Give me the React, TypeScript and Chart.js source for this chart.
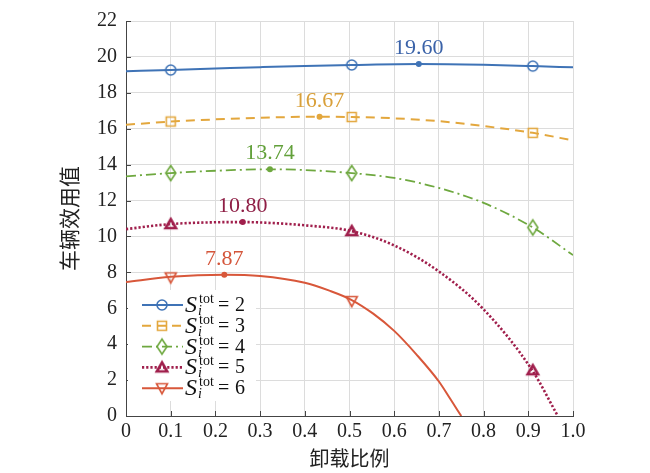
import React, { useEffect, useRef } from "react";
import { Chart, registerables } from "chart.js";

Chart.register(...registerables);

// ---------- data ----------
const seriesLabels = ["2", "3", "4", "5", "6"];

const curveX2 = [0, 0.1, 0.2, 0.3, 0.4, 0.505, 0.655, 0.8, 0.91, 1.0];
const curveY2 = [19.2, 19.27, 19.35, 19.43, 19.5, 19.55, 19.6, 19.56, 19.49, 19.42];

const curveX3 = [0, 0.1, 0.2, 0.3, 0.433, 0.505, 0.6, 0.7, 0.8, 0.91, 1.0];
const curveY3 = [16.22, 16.4, 16.52, 16.61, 16.67, 16.65, 16.58, 16.42, 16.15, 15.77, 15.35];

const curveX4 = [0, 0.1, 0.2, 0.322, 0.4, 0.505, 0.6, 0.7, 0.8, 0.91, 1.0];
const curveY4 = [13.35, 13.53, 13.66, 13.74, 13.7, 13.53, 13.26, 12.7, 11.87, 10.5, 8.96];

const curveX5 = [0, 0.1, 0.2, 0.261, 0.3, 0.4, 0.505, 0.6, 0.7, 0.8, 0.91, 0.966];
const curveY5 = [10.41, 10.69, 10.79, 10.8, 10.78, 10.62, 10.3, 9.5, 8.05, 5.94, 2.5, 0];

const curveX6 = [0, 0.1, 0.22, 0.3, 0.4, 0.455, 0.505, 0.553, 0.6, 0.65, 0.7, 0.726, 0.75];
const curveY6 = [7.46, 7.75, 7.87, 7.8, 7.42, 6.98, 6.46, 5.7, 4.74, 3.42, 1.92, 0.93, 0];

const markerX = [0.1, 0.505, 0.91];
const markerY2 = [19.27, 19.55, 19.49];
const markerY3 = [16.4, 16.65, 15.77];
const markerY4 = [13.53, 13.53, 10.5];
const markerY5 = [10.69, 10.3, 2.55];
const markerY6 = [7.72, 6.4];

const peakX = [0.655, 0.433, 0.322, 0.261, 0.22];
const peakY = [19.6, 16.67, 13.74, 10.8, 7.87];

const xTickValues = [0, 0.1, 0.2, 0.3, 0.4, 0.5, 0.6, 0.7, 0.8, 0.9, 1.0];
const yTickValues = [0, 2, 4, 6, 8, 10, 12, 14, 16, 18, 20, 22];

const xTitle = "卸载比例";
const yTitle = "车辆效用值";

// ---------- styles ----------
const colors = ["#3F73B6", "#E3A73D", "#6EA83F", "#A01F4C", "#D8573A"];
const labelColors = ["#3A62A8", "#D9A03A", "#62A03A", "#8E1E45", "#D4553A"];
const dashes: number[][] = [[], [9, 6], [10, 4, 2, 4], [2.2, 2], []];
const lineWidths = [2, 2, 1.8, 2.6, 2];
const markerKinds = ["circle", "square", "diamond", "triUp", "triDown"];

const SERIF = "'Liberation Serif', 'Times New Roman', 'DejaVu Serif', serif";
const CJK = "'Noto Sans CJK SC', 'Noto Sans', sans-serif";

function makeMarker(kind: string, color: string): HTMLCanvasElement {
  const c = document.createElement("canvas");
  c.width = 20;
  c.height = 20;
  const g = c.getContext("2d")!;
  g.strokeStyle = color;
  g.lineWidth = 1.6;
  g.lineJoin = "miter";
  g.beginPath();
  if (kind === "circle") {
    g.arc(10, 10, 5, 0, Math.PI * 2);
  } else if (kind === "square") {
    g.rect(5.5, 5.5, 9, 9);
  } else if (kind === "diamond") {
    g.moveTo(10, 2.5);
    g.lineTo(15, 10);
    g.lineTo(10, 17.5);
    g.lineTo(5, 10);
    g.closePath();
  } else if (kind === "triUp") {
    g.lineWidth = 2.6;
    g.moveTo(10, 5);
    g.lineTo(15.2, 14);
    g.lineTo(4.8, 14);
    g.closePath();
  } else {
    g.moveTo(4.5, 5.5);
    g.lineTo(15.5, 5.5);
    g.lineTo(10, 15.5);
    g.closePath();
  }
  g.stroke();
  return c;
}

export default function App() {
  const ref = useRef<HTMLCanvasElement | null>(null);

  useEffect(() => {
    document.body.style.margin = "0";
    const canvas = ref.current;
    if (!canvas) return;

    const curvesX = [curveX2, curveX3, curveX4, curveX5, curveX6];
    const curvesY = [curveY2, curveY3, curveY4, curveY5, curveY6];
    const markersY = [markerY2, markerY3, markerY4, markerY5, markerY6];
    const markerImgs = markerKinds.map((k, i) => makeMarker(k, colors[i]));

    const datasets: any[] = [];
    for (let i = 0; i < 5; i++) {
      datasets.push({
        type: "line",
        label: "S" + seriesLabels[i],
        data: curvesX[i].map((x, j) => ({ x, y: curvesY[i][j] })),
        borderColor: colors[i],
        borderWidth: lineWidths[i],
        borderDash: dashes[i],
        pointRadius: 0,
        fill: false,
        cubicInterpolationMode: "monotone",
        order: 3,
      });
      datasets.push({
        type: "line",
        label: "m" + seriesLabels[i],
        data: markersY[i].map((y, j) => ({ x: markerX[j], y })),
        showLine: false,
        pointStyle: markerImgs[i],
        pointRadius: 6,
        order: 2,
      });
      datasets.push({
        type: "line",
        label: "p" + seriesLabels[i],
        data: [{ x: peakX[i], y: peakY[i] }],
        showLine: false,
        pointStyle: "circle",
        pointRadius: 3,
        pointBackgroundColor: colors[i],
        pointBorderWidth: 0,
        order: 1,
      });
    }

    const innerTicks = {
      id: "innerTicks",
      beforeDatasetsDraw(chart: any) {
        const { ctx, chartArea, scales } = chart;
        ctx.save();
        ctx.strokeStyle = "#444";
        ctx.lineWidth = 1;
        ctx.beginPath();
        xTickValues.forEach((v) => {
          const px = Math.round(scales.x.getPixelForValue(v)) + 0.5;
          ctx.moveTo(px, chartArea.bottom);
          ctx.lineTo(px, chartArea.bottom - 5);
        });
        yTickValues.forEach((v) => {
          const py = Math.round(scales.y.getPixelForValue(v)) + 0.5;
          ctx.moveTo(chartArea.left, py);
          ctx.lineTo(chartArea.left + 5, py);
        });
        ctx.stroke();
        ctx.restore();
      },
    };

    const annotations = {
      id: "annotations",
      afterDatasetsDraw(chart: any) {
        const { ctx, scales } = chart;
        ctx.save();
        ctx.font = `22px ${SERIF}`;
        ctx.textAlign = "center";
        ctx.textBaseline = "alphabetic";
        peakX.forEach((x, i) => {
          const px = scales.x.getPixelForValue(x);
          const py = scales.y.getPixelForValue(peakY[i]);
          ctx.fillStyle = labelColors[i];
          ctx.fillText(peakY[i].toFixed(2), px, py - 10);
        });
        ctx.restore();
      },
    };

    const legend = {
      id: "customLegend",
      afterDatasetsDraw(chart: any) {
        const { ctx, chartArea } = chart;
        ctx.save();
        const left = chartArea.left + 2;
        ctx.fillStyle = "#ffffff";
        ctx.fillRect(left, 290, 128, 111);
        const rowY0 = 305;
        const rowStep = 20.8;
        for (let i = 0; i < 5; i++) {
          const cy = rowY0 + i * rowStep;
          ctx.strokeStyle = colors[i];
          ctx.lineWidth = lineWidths[i];
          ctx.setLineDash(dashes[i]);
          ctx.beginPath();
          ctx.moveTo(142, cy);
          ctx.lineTo(183, cy);
          ctx.stroke();
          ctx.setLineDash([]);
          const img = markerImgs[i];
          ctx.drawImage(img, 162 - img.width / 2, cy - img.height / 2);

          ctx.fillStyle = "#111";
          ctx.textAlign = "left";
          ctx.textBaseline = "alphabetic";
          ctx.font = `italic 24px ${SERIF}`;
          ctx.fillText("S", 185, cy + 7);
          ctx.font = `14px ${SERIF}`;
          ctx.fillText("tot", 199, cy - 2);
          ctx.font = `italic 14px ${SERIF}`;
          ctx.fillText("i", 198, cy + 10);
          ctx.font = `20px ${SERIF}`;
          ctx.fillText("=", 218, cy + 6);
          ctx.fillText(seriesLabels[i], 235, cy + 6);
        }
        ctx.restore();
      },
    };

    const chart = new Chart(canvas, {
      type: "line",
      data: { datasets },
      options: {
        animation: false,
        responsive: false,
        layout: { padding: { left: 0, right: 77, top: 12, bottom: 0 } },
        plugins: {
          legend: { display: false },
          tooltip: { enabled: false },
        },
        scales: {
          x: {
            type: "linear",
            min: 0,
            max: 1,
            afterFit(s: any) {
              s.height = 57;
            },
            afterBuildTicks(s: any) {
              s.ticks = xTickValues.map((v) => ({ value: v }));
            },
            ticks: {
              autoSkip: false,
              maxRotation: 0,
              padding: 4,
              color: "#222",
              font: { family: SERIF, size: 20 },
              callback: (v: any) => (Number(v) === 0 ? "0" : Number(v).toFixed(1)),
            },
            grid: { color: "#dcdcdc", lineWidth: 1, drawTicks: false },
            border: { color: "#444", width: 1 },
            title: {
              display: true,
              text: xTitle,
              color: "#222",
              font: { family: CJK, size: 20 },
              padding: { top: 0, bottom: 3 },
            },
          },
          y: {
            type: "linear",
            min: 0,
            max: 22,
            afterFit(s: any) {
              s.width = 126;
            },
            afterBuildTicks(s: any) {
              s.ticks = yTickValues.map((v) => ({ value: v }));
            },
            ticks: {
              autoSkip: false,
              padding: 9,
              color: "#222",
              font: { family: SERIF, size: 20 },
              callback: (v: any) => String(v),
            },
            grid: { color: "#dcdcdc", lineWidth: 1, drawTicks: false },
            border: { color: "#444", width: 1 },
            title: {
              display: true,
              text: yTitle,
              color: "#222",
              font: { family: CJK, size: 21 },
              padding: { top: 56, bottom: 0 },
            },
          },
        },
      },
      plugins: [innerTicks, annotations, legend],
    } as any);

    return () => {
      chart.destroy();
    };
  }, []);

  return (
    <div style={{ width: 650, height: 473, background: "#fff" }}>
      <canvas ref={ref} width={650} height={473} style={{ width: 650, height: 473, display: "block" }} />
    </div>
  );
}
